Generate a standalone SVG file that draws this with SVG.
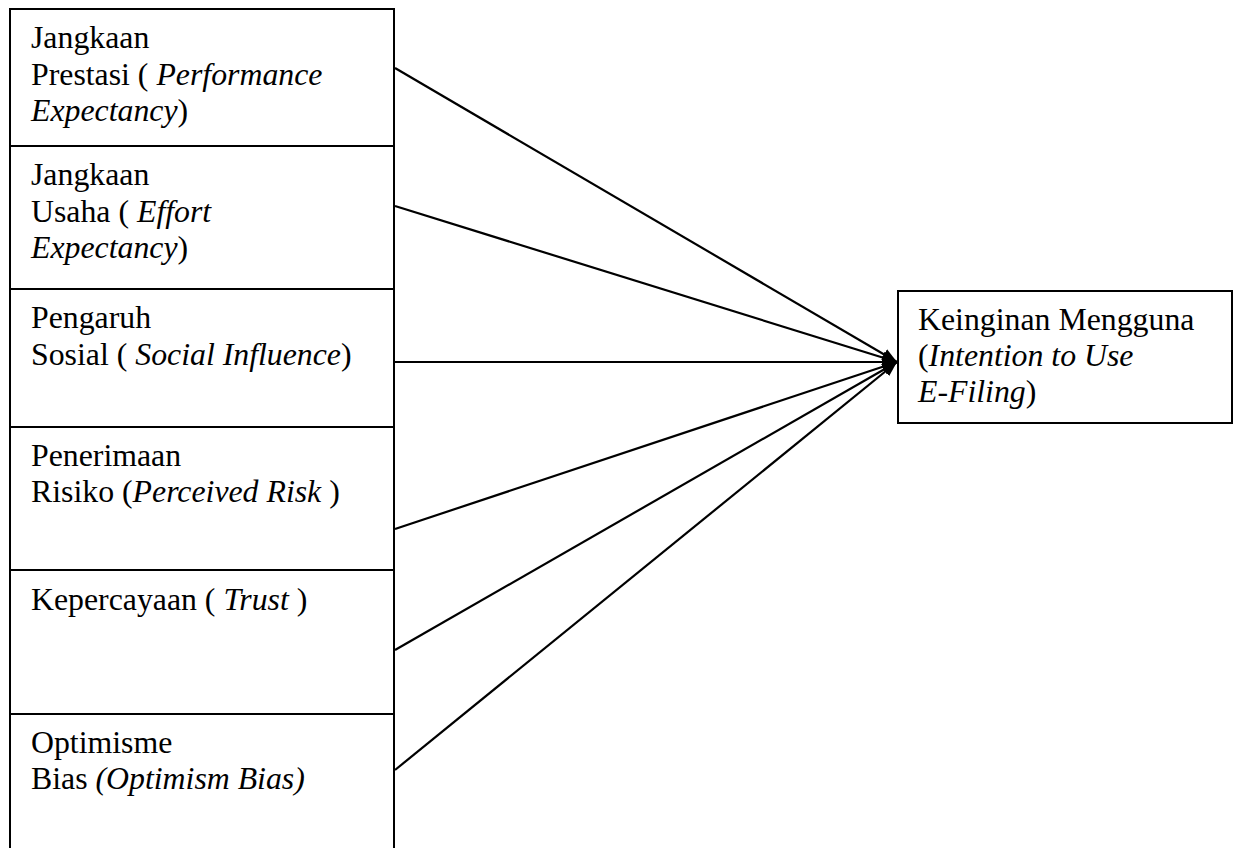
<svg xmlns="http://www.w3.org/2000/svg" width="1238" height="848" viewBox="0 0 1238 848">
<style>
.box{fill:#fff;stroke:#000;stroke-width:2}
.t{font-family:'Liberation Serif','DejaVu Serif',serif;font-size:31.8px;fill:#000}
.i{font-style:italic}
.c{stroke:#000;stroke-width:2.2;fill:none}
</style>
<defs>
<marker id="ah" markerUnits="userSpaceOnUse" markerWidth="16" markerHeight="12" refX="15" refY="6" orient="auto">
<path d="M0,0 L15,6 L0,12 z" fill="#000"/>
</marker>
</defs>
<rect width="1238" height="848" fill="#fff"/>
<g id="n1"><rect class="box" x="10" y="9" width="384" height="137"/>
<text class="t"><tspan x="31" y="48">Jangkaan</tspan><tspan x="31" y="85">Prestasi ( <tspan class="i">Performance</tspan></tspan><tspan x="31" y="121"><tspan class="i">Expectancy</tspan>)</tspan></text></g>
<g id="n2"><rect class="box" x="10" y="146" width="384" height="143"/>
<text class="t"><tspan x="31" y="185">Jangkaan</tspan><tspan x="31" y="222">Usaha ( <tspan class="i">Effort</tspan></tspan><tspan x="31" y="258"><tspan class="i">Expectancy</tspan>)</tspan></text></g>
<g id="n3"><rect class="box" x="10" y="289" width="384" height="138"/>
<text class="t"><tspan x="31" y="328">Pengaruh</tspan><tspan x="31" y="365">Sosial ( <tspan class="i">Social Influence</tspan>)</tspan></text></g>
<g id="n4"><rect class="box" x="10" y="427" width="384" height="143"/>
<text class="t"><tspan x="31" y="466">Penerimaan</tspan><tspan x="31" y="502">Risiko (<tspan class="i">Perceived Risk </tspan>)</tspan></text></g>
<g id="n5"><rect class="box" x="10" y="570" width="384" height="144"/>
<text class="t"><tspan x="31" y="610">Kepercayaan ( <tspan class="i">Trust </tspan>)</tspan></text></g>
<g id="n6"><rect class="box" x="10" y="714" width="384" height="140"/>
<text class="t"><tspan x="31" y="753">Optimisme</tspan><tspan x="31" y="789">Bias <tspan class="i">(Optimism Bias)</tspan></tspan></text></g>
<g id="n7"><rect class="box" x="898" y="291" width="334" height="132"/>
<text class="t"><tspan x="918" y="330">Keinginan Mengguna</tspan><tspan x="918" y="366">(<tspan class="i">Intention to Use</tspan></tspan><tspan x="918" y="402"><tspan class="i">E-Filing</tspan>)</tspan></text></g>
<g id="connectors">
<line class="c" x1="395" y1="68" x2="897" y2="362" marker-end="url(#ah)"/>
<line class="c" x1="395" y1="206" x2="897" y2="362" marker-end="url(#ah)"/>
<line class="c" x1="395" y1="362" x2="897" y2="362" marker-end="url(#ah)"/>
<line class="c" x1="395" y1="529" x2="897" y2="362" marker-end="url(#ah)"/>
<line class="c" x1="395" y1="650" x2="897" y2="362" marker-end="url(#ah)"/>
<line class="c" x1="395" y1="770" x2="897" y2="362" marker-end="url(#ah)"/>
</g>
</svg>
